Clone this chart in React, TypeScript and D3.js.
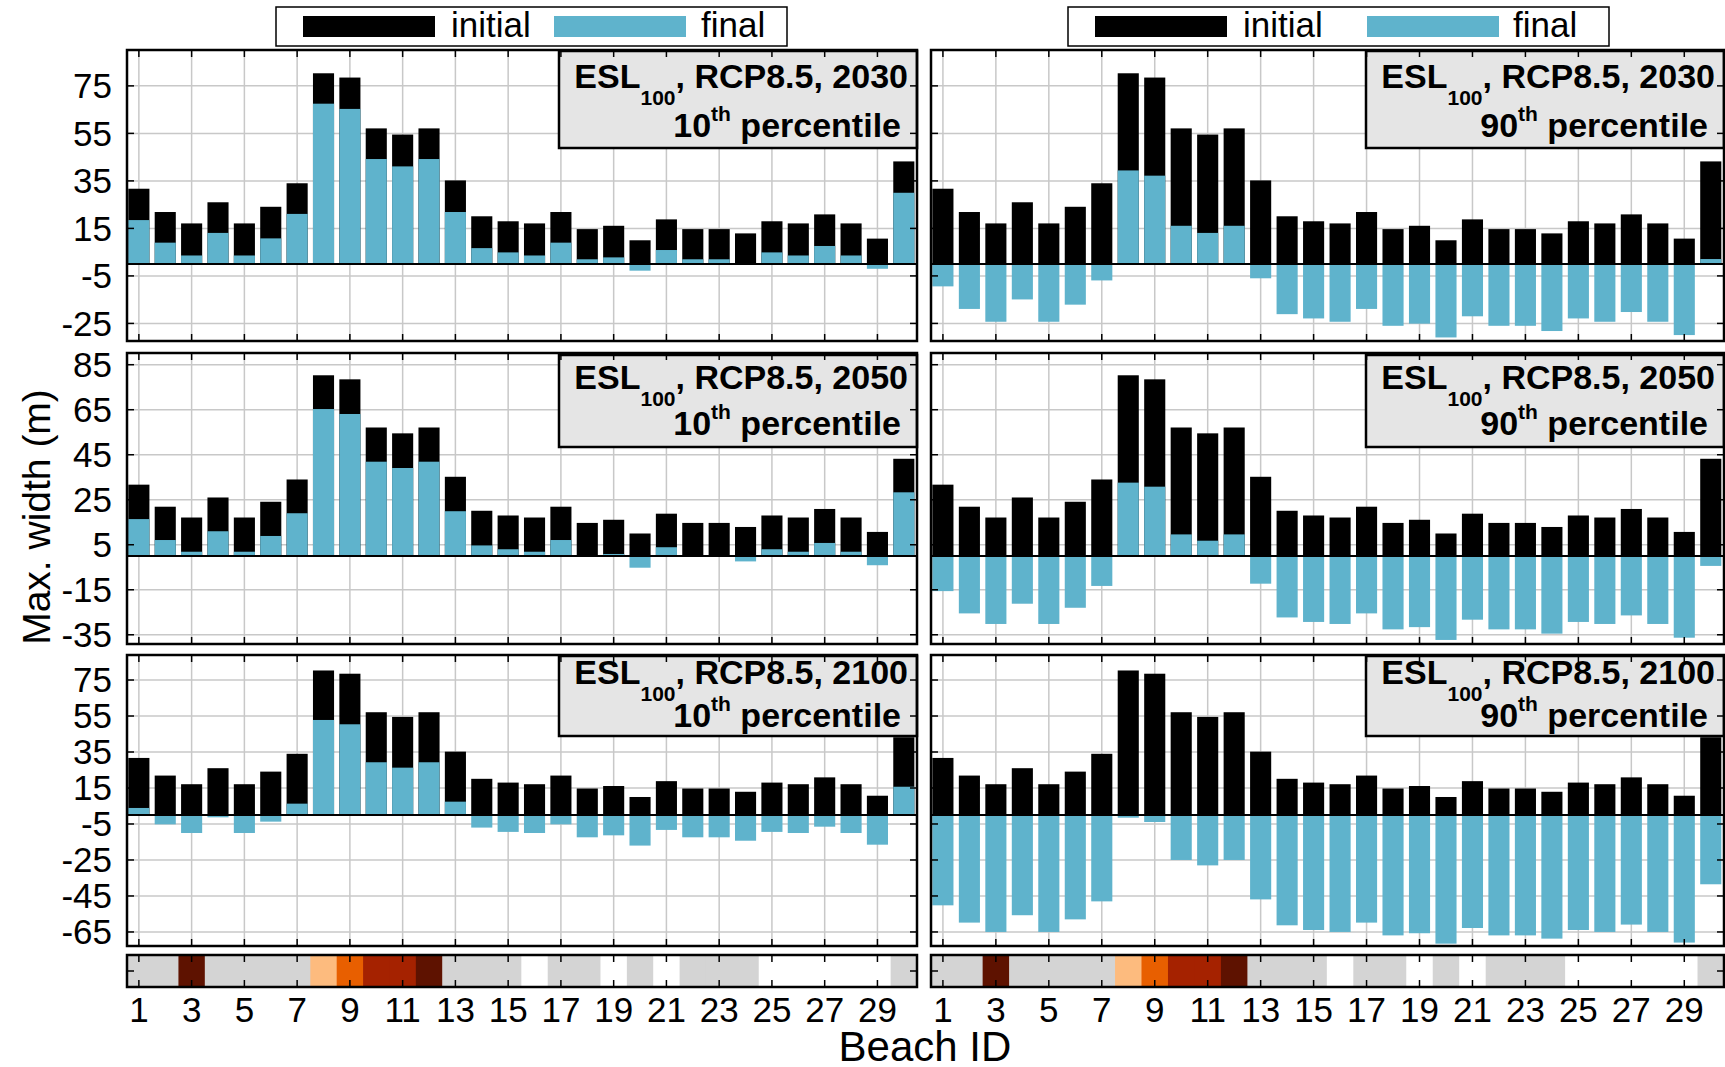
import React from "react";
import * as d3 from "d3";

// beach ids and values (m)
const beachIds = [1, 2, 3, 4, 5, 6, 7, 8, 9, 10, 11, 12, 13, 14, 15, 16, 17, 18, 19, 20, 21, 22, 23, 24, 25, 26, 27, 28, 29, 30];
const initialWidth = [31.7, 21.9, 17.1, 26.0, 17.1, 24.1, 34.0, 80.3, 78.5, 57.1, 54.5, 57.1, 35.2, 20.1, 18.0, 17.1, 21.9, 14.7, 16.1, 10.0, 18.8, 14.7, 14.7, 12.9, 18.0, 17.1, 20.9, 17.1, 10.7, 43.2];

const final2030p10 = [18.5, 9.0, 3.6, 13.1, 3.6, 10.8, 21.1, 67.5, 65.3, 44.2, 41.1, 44.2, 21.9, 6.7, 4.9, 3.6, 9.0, 2.0, 2.8, -2.8, 5.9, 2.0, 2.0, 0.2, 4.9, 3.6, 7.6, 3.6, -2.0, 30.0];
const final2030p90 = [-9.4, -18.9, -24.3, -14.9, -24.3, -17.1, -6.9, 39.4, 37.2, 16.1, 13.1, 16.1, -6.0, -21.1, -22.9, -24.3, -18.9, -26.0, -25.1, -30.9, -22.0, -26.0, -26.0, -28.2, -22.9, -24.3, -20.2, -24.3, -29.9, 2.1];
const final2050p10 = [16.4, 7.1, 1.9, 11.0, 1.9, 8.9, 19.0, 65.3, 63.1, 41.9, 39.1, 41.9, 19.9, 4.7, 3.0, 1.9, 7.1, 0.1, 0.9, -5.2, 3.9, 0.1, 0.1, -2.4, 3.0, 1.9, 5.8, 1.9, -4.1, 28.3];
const final2050p90 = [-15.6, -25.5, -30.2, -21.2, -30.2, -23.0, -13.3, 32.6, 30.8, 9.6, 6.8, 9.6, -12.3, -27.3, -29.3, -30.2, -25.5, -32.6, -31.6, -37.3, -28.3, -32.6, -32.6, -34.5, -29.3, -30.2, -26.4, -30.2, -36.3, -4.4];
const final2100p10 = [3.9, -5.2, -10.0, -1.3, -10.0, -3.7, 6.3, 52.8, 50.4, 29.3, 26.3, 29.3, 7.4, -7.0, -9.4, -10.0, -5.2, -12.4, -11.3, -17.0, -8.3, -12.4, -12.4, -14.3, -9.4, -10.0, -6.5, -10.0, -16.5, 15.7];
const final2100p90 = [-50.2, -59.8, -65.0, -55.7, -65.0, -58.0, -48.0, -1.5, -3.9, -25.0, -28.0, -25.0, -46.9, -61.3, -63.9, -65.0, -59.8, -66.9, -65.7, -71.5, -62.8, -66.9, -66.9, -68.7, -63.9, -65.0, -60.9, -65.0, -70.9, -38.5];

// beach class shown in the strip under each column
const stripClass = ["g", "g", "d", "g", "g", "g", "g", "lo", "o", "r", "r", "d", "g", "g", "g", "w", "g", "g", "w", "g", "w", "g", "g", "g", "w", "w", "w", "w", "w", "g"];
const stripColor: Record<string, string> = { g: "#d4d4d4", d: "#5e1200", lo: "#fdbb7e", o: "#e85f00", r: "#a52200", w: "#ffffff" };

const xTicks = [1, 3, 5, 7, 9, 11, 13, 15, 17, 19, 21, 23, 25, 27, 29];
const yTicksByRow = [
  [-25, -5, 15, 35, 55, 75],
  [-35, -15, 5, 25, 45, 65, 85],
  [-65, -45, -25, -5, 15, 35, 55, 75],
];
const yDomainByRow = [
  [-32.4, 90.1],
  [-39.1, 90.2],
  [-72.8, 88.9],
];
const years = ["2030", "2050", "2100"];
const percentiles = ["10", "90"];
const finals = [
  [final2030p10, final2030p90],
  [final2050p10, final2050p90],
  [final2100p10, final2100p90],
];

const W = 1725;
const H = 1067;
const FONT = "'Liberation Sans', Arial, sans-serif";
const BLUE = "#5fb3cc";
const GRID = "#c8c8c8";

const COLS = [
  { left: 127, right: 917 },
  { left: 931, right: 1724 },
];
const ROWS = [
  { top: 50, bottom: 341, boxTop: 51, boxBottom: 148, l1: 88, l2: 137 },
  { top: 353, bottom: 644, boxTop: 355, boxBottom: 447, l1: 389, l2: 435 },
  { top: 655, bottom: 946, boxTop: 656, boxBottom: 736, l1: 684, l2: 727 },
];
const STRIP = { top: 955, bottom: 987 };
const LEGENDS = [
  { x: 276, w: 511, sw1: 27, t1: 175, sw2: 278, t2: 425 },
  { x: 1068, w: 541, sw1: 27, t1: 175, sw2: 299, t2: 445 },
];

const TICK = 7;

export default function App() {
  const xScales = COLS.map((c) => d3.scaleLinear().domain([0.55, 30.5]).range([c.left, c.right]));
  const barW = (xScales[0](2) - xScales[0](1)) * 0.8;

  const panels: React.ReactNode[] = [];
  ROWS.forEach((r, ri) => {
    const y = d3.scaleLinear().domain(yDomainByRow[ri]).range([r.bottom, r.top]);
    COLS.forEach((c, ci) => {
      const x = xScales[ci];
      const fin = finals[ri][ci];
      const key = `p${ri}${ci}`;
      panels.push(
        <g key={key}>
          <rect x={c.left} y={r.top} width={c.right - c.left} height={r.bottom - r.top} fill="#fff" />
          {xTicks.map((t) => (
            <line key={"gx" + t} x1={x(t)} x2={x(t)} y1={r.top} y2={r.bottom} stroke={GRID} strokeWidth={1.5} />
          ))}
          {yTicksByRow[ri].map((t) => (
            <line key={"gy" + t} x1={c.left} x2={c.right} y1={y(t)} y2={y(t)} stroke={GRID} strokeWidth={1.5} />
          ))}
          {beachIds.map((b, i) => (
            <rect key={"i" + b} x={x(b) - barW / 2} width={barW} y={y(initialWidth[i])} height={y(0) - y(initialWidth[i])} fill="#000" />
          ))}
          {beachIds.map((b, i) => (
            <rect
              key={"f" + b}
              x={x(b) - barW / 2}
              width={barW}
              y={Math.min(y(fin[i]), y(0))}
              height={Math.abs(y(0) - y(fin[i]))}
              fill={BLUE}
            />
          ))}
          <line x1={c.left} x2={c.right} y1={y(0)} y2={y(0)} stroke="#000" strokeWidth={2} />
          {/* annotation box */}
          <rect
            x={c.right - 358}
            y={r.boxTop}
            width={358}
            height={r.boxBottom - r.boxTop}
            fill="#e5e5e5"
            stroke="#000"
            strokeWidth={2.5}
          />
          <text x={c.right - 9} y={r.l1} textAnchor="end" fontFamily={FONT} fontWeight="bold" fontSize={34} style={{ whiteSpace: "pre" }}>
            ESL
            <tspan dy={17} fontSize={21}>100</tspan>
            <tspan dy={-17}>{`, RCP8.5, ${years[ri]}`}</tspan>
          </text>
          <text x={c.right - 16} y={r.l2} textAnchor="end" fontFamily={FONT} fontWeight="bold" fontSize={34} style={{ whiteSpace: "pre" }}>
            {percentiles[ci]}
            <tspan dy={-16} fontSize={21}>th</tspan>
            <tspan dy={16}>{" percentile"}</tspan>
          </text>
          {/* ticks on all sides */}
          {xTicks.map((t) => (
            <g key={"tx" + t}>
              <line x1={x(t)} x2={x(t)} y1={r.top} y2={r.top + TICK} stroke="#000" strokeWidth={1.5} />
              <line x1={x(t)} x2={x(t)} y1={r.bottom} y2={r.bottom - TICK} stroke="#000" strokeWidth={1.5} />
            </g>
          ))}
          {yTicksByRow[ri].map((t) => (
            <g key={"ty" + t}>
              <line x1={c.left} x2={c.left + TICK} y1={y(t)} y2={y(t)} stroke="#000" strokeWidth={1.5} />
              <line x1={c.right} x2={c.right - TICK} y1={y(t)} y2={y(t)} stroke="#000" strokeWidth={1.5} />
            </g>
          ))}
          <rect x={c.left} y={r.top} width={c.right - c.left} height={r.bottom - r.top} fill="none" stroke="#000" strokeWidth={2.5} />
          {ci === 0 &&
            yTicksByRow[ri].map((t) => (
              <text key={"ly" + t} x={112} y={y(t)} dy="0.35em" textAnchor="end" fontFamily={FONT} fontSize={35}>
                {t}
              </text>
            ))}
        </g>
      );
    });
  });

  const strips = COLS.map((c, ci) => {
    const x = xScales[ci];
    const mid = (STRIP.top + STRIP.bottom) / 2;
    return (
      <g key={"s" + ci}>
        {beachIds.map((b, i) => {
          const x0 = Math.max(c.left, x(b - 0.5));
          const x1 = Math.min(c.right, x(b + 0.5));
          return (
            <rect
              key={b}
              x={x0}
              width={x1 - x0 + (b < 30 ? 0.8 : 0)}
              y={STRIP.top}
              height={STRIP.bottom - STRIP.top}
              fill={stripColor[stripClass[i]]}
            />
          );
        })}
        {xTicks.map((t) => (
          <g key={"t" + t}>
            <line x1={x(t)} x2={x(t)} y1={STRIP.top} y2={STRIP.top + TICK} stroke="#000" strokeWidth={1.5} />
            <line x1={x(t)} x2={x(t)} y1={STRIP.bottom} y2={STRIP.bottom - TICK} stroke="#000" strokeWidth={1.5} />
            <text x={x(t)} y={1022} textAnchor="middle" fontFamily={FONT} fontSize={35}>
              {t}
            </text>
          </g>
        ))}
        <line x1={c.left} x2={c.left + TICK} y1={mid} y2={mid} stroke="#000" strokeWidth={1.5} />
        <line x1={c.right} x2={c.right - TICK} y1={mid} y2={mid} stroke="#000" strokeWidth={1.5} />
        <rect x={c.left} y={STRIP.top} width={c.right - c.left} height={STRIP.bottom - STRIP.top} fill="none" stroke="#000" strokeWidth={2.5} />
      </g>
    );
  });

  const legends = LEGENDS.map((l, i) => (
    <g key={"lg" + i}>
      <rect x={l.x} y={7} width={l.w} height={39} fill="#fff" stroke="#000" strokeWidth={1.5} />
      <rect x={l.x + l.sw1} y={16} width={132} height={21} fill="#000" />
      <text x={l.x + l.t1} y={37} fontFamily={FONT} fontSize={35}>initial</text>
      <rect x={l.x + l.sw2} y={16} width={132} height={21} fill={BLUE} />
      <text x={l.x + l.t2} y={37} fontFamily={FONT} fontSize={35}>final</text>
    </g>
  ));

  return (
    <svg width={W} height={H} style={{ position: "absolute", left: 0, top: 0, background: "#fff" }}>
      <rect width={W} height={H} fill="#fff" />
      {panels}
      {strips}
      {legends}
      <text x={925} y={1061} textAnchor="middle" fontFamily={FONT} fontSize={42}>
        Beach ID
      </text>
      <text transform="translate(50,517) rotate(-90)" textAnchor="middle" fontFamily={FONT} fontSize={39}>
        Max. width (m)
      </text>
    </svg>
  );
}
